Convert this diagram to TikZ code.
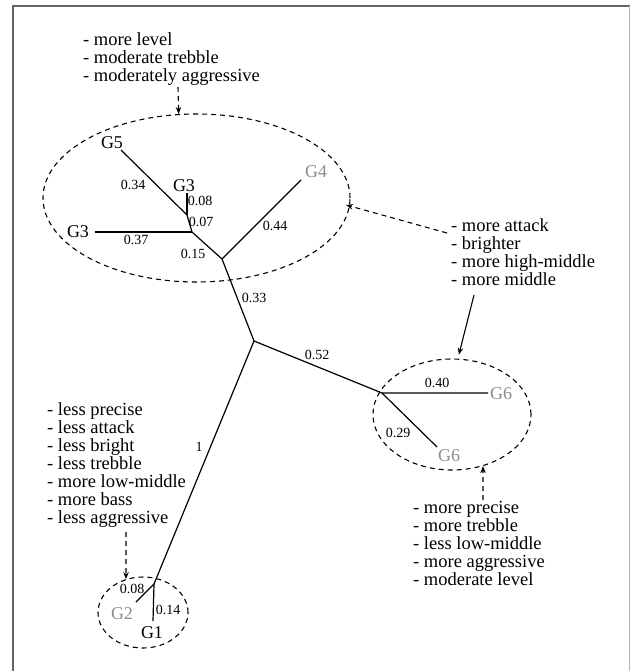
\documentclass[tikz,border=0pt]{standalone}
\usepackage{fontspec}
\setmainfont{Liberation Serif}
\usetikzlibrary{shapes.geometric,arrows.meta}
\tikzset{
  branch/.style={line width=1.2pt},
  leaf/.style={font=\fontsize{18}{18}\selectfont, inner sep=0pt},
  greyleaf/.style={leaf, text=black!45},
  blen/.style={font=\fontsize{14}{14}\selectfont, inner sep=0pt},
  note/.style={font=\fontsize{18.5}{18}\selectfont, anchor=base west, inner sep=0pt},
  cluster/.style={ellipse, draw, dash pattern=on 5pt off 4pt, line width=1.1pt, inner sep=0pt},
  hint/.style={-{Stealth[length=7pt,width=5.5pt]}, line width=1.1pt},
  dhint/.style={hint, dash pattern=on 5pt off 4pt},
}
\begin{document}
\begin{tikzpicture}[x=1pt,y=-1pt]
  \useasboundingbox (0,0) rectangle (630,671);
  % frame
  \draw[black!60, line width=2pt] (13,671) -- (13,6.5) -- (630,6.5);
  \draw[black!30, line width=1pt] (629,6.5) -- (629,671);

  % junctions and branch ends
  \coordinate (R) at (254,341);
  \coordinate (U) at (222,259);
  \coordinate (V) at (192,232);
  \coordinate (W) at (187,215);
  \coordinate (X) at (382,393);
  \coordinate (Y) at (154,584);
  \coordinate (g5end) at (121,150);
  \coordinate (g3uend) at (187,193);
  \coordinate (g3lend) at (95,232);
  \coordinate (g4end) at (301,180);
  \coordinate (g6aend) at (488,393);
  \coordinate (g6bend) at (437,447);
  \coordinate (g1end) at (153,621);
  \coordinate (g2end) at (136,602);

  % branches
  \draw[branch] (R) -- (U) -- (V) -- (W) -- (g5end);
  \draw[branch] (W) -- (g3uend);
  \draw[branch] (V) -- (g3lend);
  \draw[branch] (U) -- (g4end);
  \draw[branch] (R) -- (X) -- (g6aend);
  \draw[branch] (X) -- (g6bend);
  \draw[branch] (R) -- (Y) -- (g1end);
  \draw[branch] (Y) -- (g2end);

  % leaves
  \node[leaf] (G5) at (112,143) {G5};
  \node[leaf] (G3u) at (184,186) {G3};
  \node[leaf] (G3l) at (78,232) {G3};
  \node[greyleaf] (G4) at (316,172) {G4};
  \node[greyleaf] (G6a) at (501,394) {G6};
  \node[greyleaf] (G6b) at (449,456) {G6};
  \node[leaf] (G1) at (152,633) {G1};
  \node[greyleaf] (G2) at (122,614) {G2};

  % branch lengths
  \node[blen] (l34) at (133,185) {0.34};
  \node[blen] (l08u) at (200,201) {0.08};
  \node[blen] (l07) at (201,222) {0.07};
  \node[blen] (l37) at (136,240) {0.37};
  \node[blen] (l15) at (193,254) {0.15};
  \node[blen] (l44) at (275,226) {0.44};
  \node[blen] (l33) at (254,298) {0.33};
  \node[blen] (l52) at (317,355) {0.52};
  \node[blen] (l40) at (437,383) {0.40};
  \node[blen] (l29) at (398,433) {0.29};
  \node[blen] (l1) at (199,447) {1};
  \node[blen] (l08b) at (132,589) {0.08};
  \node[blen] (l14) at (168,610) {0.14};

  % clusters
  \node[cluster, minimum width=307pt, minimum height=168pt] (cl-top) at (196.5,198) {};
  \node[cluster, minimum width=158pt, minimum height=111pt] (cl-right) at (452,414.5) {};
  \node[cluster, minimum width=90pt, minimum height=71pt] (cl-bot) at (143,612.5) {};

  % notes
  \foreach \txt [count=\i] in {- more level, - moderate trebble, - moderately aggressive}
    \node[note] (nt-\i) at (83,{46+18*(\i-1)}) {\txt};
  \foreach \txt [count=\i] in {- more attack, - brighter, - more high-middle, - more middle}
    \node[note] (nr-\i) at (451,{231+18*(\i-1)}) {\txt};
  \foreach \txt [count=\i] in {- more precise, - more trebble, - less low-middle, - more aggressive, - moderate level}
    \node[note] (nb-\i) at (413,{513+18*(\i-1)}) {\txt};
  \foreach \txt [count=\i] in {- less precise, - less attack, - less bright, - less trebble, - more low-middle, - more bass, - less aggressive}
    \node[note] (nl-\i) at (47,{415+18*(\i-1)}) {\txt};

  % pointers
  \coordinate (a-top) at (178,87);
  \coordinate (a-att) at (447,233);
  \coordinate (a-mid) at (474,295);
  \coordinate (a-pre) at (483,500);
  \coordinate (a-less) at (126,532);
  \draw[dhint] (a-top) -- (cl-top.102);
  \draw[dhint, shorten >=-4pt] (a-att) -- (cl-top.-3);
  \draw[hint, shorten >=4pt] (a-mid) -- (cl-right.84);
  \draw[dhint] (a-pre) -- (cl-right.-59);
  \draw[dhint] (a-less) -- (cl-bot.117);
\end{tikzpicture}
\end{document}
